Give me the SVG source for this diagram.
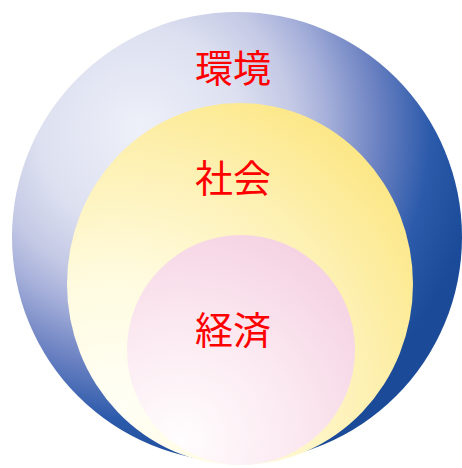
<svg xmlns="http://www.w3.org/2000/svg" width="462" height="468" viewBox="0 0 462 468">
  <defs>
    <radialGradient id="gBlue" gradientUnits="userSpaceOnUse" cx="140" cy="130" r="340" fx="140" fy="130">
      <stop offset="0" stop-color="#eef0f9"/>
      <stop offset="0.3" stop-color="#dde0f0"/>
      <stop offset="0.45" stop-color="#c4c9e5"/>
      <stop offset="0.55" stop-color="#a6b0da"/>
      <stop offset="0.7" stop-color="#6c82c2"/>
      <stop offset="0.85" stop-color="#2d5bab"/>
      <stop offset="1" stop-color="#1a4a98"/>
    </radialGradient>
    <radialGradient id="gYellow" gradientUnits="userSpaceOnUse" cx="115" cy="410" r="370" fx="115" fy="410">
      <stop offset="0" stop-color="#fffff6"/>
      <stop offset="0.35" stop-color="#fffbe0"/>
      <stop offset="0.7" stop-color="#fdf0b0"/>
      <stop offset="1" stop-color="#fce680"/>
    </radialGradient>
    <radialGradient id="gPink" gradientUnits="userSpaceOnUse" cx="180" cy="440" r="240" fx="180" fy="440">
      <stop offset="0" stop-color="#fffdfe"/>
      <stop offset="0.5" stop-color="#fbe8f0"/>
      <stop offset="1" stop-color="#f4cfe1"/>
    </radialGradient>
  </defs>
  <style>
    .lbl { font-family: "Noto Sans CJK JP", "Noto Sans CJK SC", sans-serif; font-size: 38px; fill: #ff0000; text-anchor: middle; }
  </style>
  <rect x="0" y="0" width="462" height="468" fill="#ffffff"/>
  <g id="kankyo">
    <circle cx="237" cy="237" r="225" fill="url(#gBlue)"/>
    <text class="lbl" x="233" y="82">環境</text>
  </g>
  <g id="shakai">
    <ellipse cx="240" cy="284" rx="173" ry="181" fill="url(#gYellow)"/>
    <text class="lbl" x="233" y="192">社会</text>
  </g>
  <g id="keizai">
    <ellipse cx="241" cy="350" rx="114" ry="115" fill="url(#gPink)"/>
    <text class="lbl" x="233" y="344">経済</text>
  </g>
  <g id="connectors"/>
</svg>
